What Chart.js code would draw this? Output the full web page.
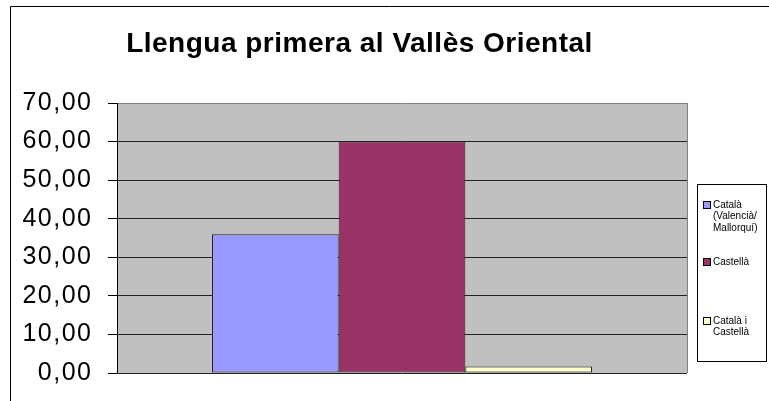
<!DOCTYPE html>
<html>
<head>
<meta charset="utf-8">
<script src="https://cdn.jsdelivr.net/npm/chart.js@4/dist/chart.umd.min.js"></script>
<style>
html,body{margin:0;padding:0;background:#fff;}
canvas{display:block;}
</style>
</head>
<body>
<canvas id="c" width="769" height="401"></canvas>
<script>
const chartTitle = 'Llengua primera al Vallès Oriental';
const categories = [''];
const seriesLabels = ['Català (Valencià/ Mallorquí)', 'Castellà', 'Català i Castellà'];
const legendLines = [['Català', '(Valencià/', 'Mallorquí)'], ['Castellà'], ['Català i', 'Castellà']];
const seriesValues = [[36.0], [60.0], [1.7]];
const seriesColors = ['#9999ff', '#993366', '#ffffcc'];
const yMin = 0, yMax = 70, yStep = 10;

const FONT = '"Liberation Sans", Arial, Helvetica, sans-serif';

const decor = {
  id: 'decor',
  beforeDraw(chart) {
    const ctx = chart.ctx, a = chart.chartArea;
    ctx.save();
    ctx.fillStyle = '#fff';
    ctx.fillRect(0, 0, chart.width, chart.height);
    // outer border
    ctx.strokeStyle = '#000';
    ctx.lineWidth = 1;
    ctx.beginPath();
    ctx.moveTo(10.5, chart.height);
    ctx.lineTo(10.5, 6.5);
    ctx.lineTo(chart.width, 6.5);
    ctx.stroke();
    // plot background
    ctx.fillStyle = '#c0c0c0';
    ctx.fillRect(a.left, a.top, a.right - a.left, a.bottom - a.top);
    // right border of plot area
    ctx.strokeStyle = '#808080';
    ctx.beginPath();
    ctx.moveTo(Math.round(a.right) + 0.5, a.top);
    ctx.lineTo(Math.round(a.right) + 0.5, a.bottom);
    ctx.stroke();
    // title
    ctx.fillStyle = '#000';
    ctx.font = 'bold 28px ' + FONT;
    ctx.textAlign = 'center';
    ctx.textBaseline = 'alphabetic';
    try { ctx.letterSpacing = '0.5px'; } catch (e) {}
    ctx.fillText(chartTitle, 359.5, 52);
    ctx.restore();
    // slight tracking for axis tick labels (as in the original rendering)
    try { ctx.letterSpacing = '1.5px'; } catch (e) {}
  },
  beforeDatasetsDraw(chart) {
    try { chart.ctx.letterSpacing = '0px'; } catch (e) {}
  },
  afterDraw(chart) {
    const ctx = chart.ctx;
    ctx.save();
    try { ctx.letterSpacing = '0px'; } catch (e) {}
    // legend box
    ctx.strokeStyle = '#000';
    ctx.lineWidth = 1;
    ctx.strokeRect(697.5, 184.5, 69, 177);
    ctx.font = '10px ' + FONT;
    ctx.textAlign = 'left';
    ctx.textBaseline = 'middle';
    const starts = [205, 262, 321];
    const lh = 11.5;
    legendLines.forEach((lines, i) => {
      const y0 = starts[i];
      ctx.fillStyle = seriesColors[i];
      ctx.fillRect(704, Math.round(y0) - 3, 6, 6);
      ctx.strokeStyle = '#000';
      ctx.strokeRect(703.5, Math.round(y0) - 3.5, 7, 7);
      ctx.fillStyle = '#000';
      lines.forEach((t, j) => ctx.fillText(t, 713, y0 + j * lh));
    });
    ctx.restore();
  }
};

new Chart(document.getElementById('c'), {
  type: 'bar',
  data: {
    labels: categories,
    datasets: seriesLabels.map((lab, i) => ({
      label: lab,
      data: seriesValues[i],
      backgroundColor: seriesColors[i],
      borderColor: '#222222',
      borderWidth: 1,
      borderSkipped: false,
      categoryPercentage: 0.6667,
      barPercentage: 1.0
    }))
  },
  options: {
    responsive: false,
    animation: false,
    devicePixelRatio: 1,
    layout: { padding: { left: 10, top: 103, right: 82, bottom: 28 } },
    plugins: { legend: { display: false }, title: { display: false }, tooltip: { enabled: false } },
    scales: {
      x: { display: false },
      y: {
        min: yMin, max: yMax,
        afterFit(scale) { scale.width = 107; scale.paddingTop = 0; scale.paddingBottom = 0; },
        ticks: {
          stepSize: yStep,
          color: '#000',
          padding: 15.5,
          font: { family: FONT, size: 25, lineHeight: 1.0 },
          callback: v => v.toFixed(2).replace('.', ',')
        },
        grid: {
          color: ctx => (ctx.tick && ctx.tick.value === yMax) ? '#808080' : '#222222',
          tickColor: '#000',
          tickLength: 9,
          lineWidth: 1
        },
        border: { color: '#000', width: 1 }
      }
    }
  },
  plugins: [decor]
});
</script>
</body>
</html>
